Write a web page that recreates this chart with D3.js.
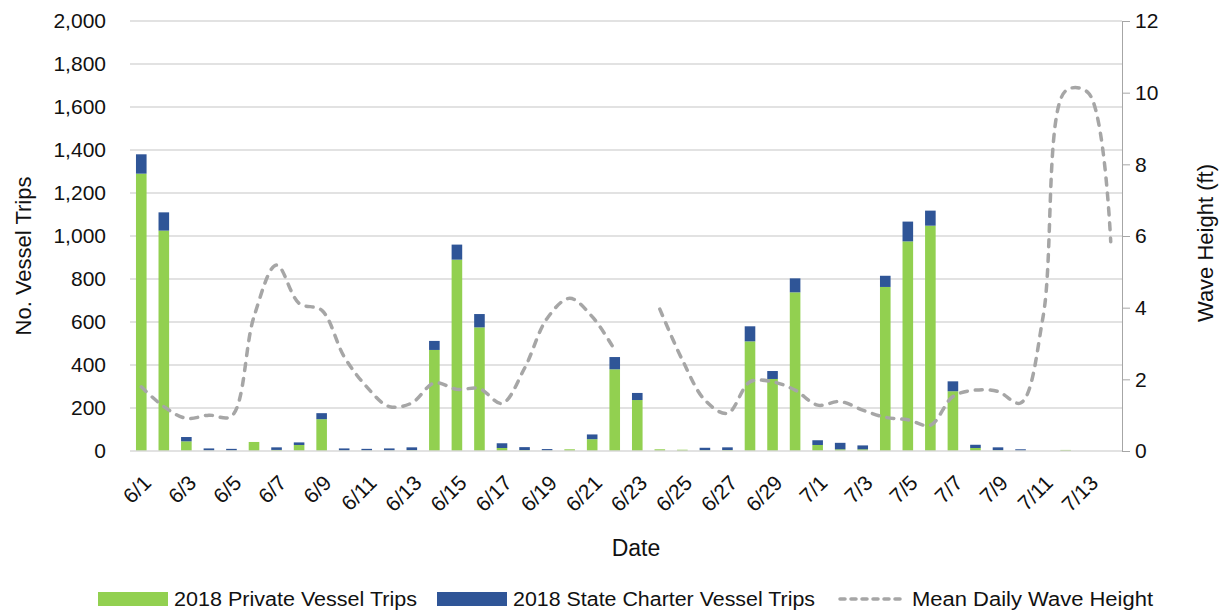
<!DOCTYPE html>
<html>
<head>
<meta charset="utf-8">
<script src="https://cdn.jsdelivr.net/npm/d3@7"></script>
<style>
  html, body { margin: 0; padding: 0; background: #fff; }
  svg { display: block; font-family: "Liberation Sans", Arial, sans-serif; }
</style>
</head>
<body>
<svg id="chart" width="1219" height="612"></svg>
<script>
const dates = ["6/1","6/2","6/3","6/4","6/5","6/6","6/7","6/8","6/9","6/10","6/11","6/12","6/13","6/14","6/15","6/16","6/17","6/18","6/19","6/20","6/21","6/22","6/23","6/24","6/25","6/26","6/27","6/28","6/29","6/30","7/1","7/2","7/3","7/4","7/5","7/6","7/7","7/8","7/9","7/10","7/11","7/12","7/13","7/14"];
const privateTrips = [1290,1025,45,2,2,42,5,28,148,2,2,2,3,470, 890,575,14,4,2,8,55,380,237,8,6,3,4, 510,335,738, 28,8,8,763,975,1048,278,14,3,1,0,5,0,0];
const charterTrips = [90,85,20,10,8,0,12,12,28,10,8,10,14,42, 70,62,22,14,7,0,22,57,33,0,0,12,13, 70,37,65, 22,30,18,52,92,70,46,15,14,7,0,0,0,0];
const waveHeight = [1.79,1.24,0.91,1.0,0.97,3.75,5.19,4.12,3.93,2.63,1.79,1.24,1.34,1.9, 1.72,1.74,1.33,2.31,3.7,4.26,3.75,2.82,null,3.96,2.54,1.42,1.05, 1.93,1.93,1.7, 1.28,1.38,1.14,0.94,0.87,0.72,1.52,1.7,1.66,1.34,3.75,10.05,10.0,5.84];
const leftTicks = [0,200,400,600,800,1000,1200,1400,1600,1800,2000];
const rightTicks = [0,2,4,6,8,10,12];
const seriesNames = ["2018 Private Vessel Trips","2018 State Charter Vessel Trips","Mean Daily Wave Height"];

const GREEN = "#92D050", BLUE = "#2F5597", GRAY = "#A6A6A6", GRID = "#D9D9D9", TXT = "#111";
const FONT = "Liberation Sans, Arial, sans-serif";
const svg = d3.select("#chart");
const X0 = 130, X1 = 1122, Y0 = 451, Y1 = 21;

const x = d3.scaleBand().domain(dates).range([X0, X1]).paddingInner(0.53).paddingOuter(0.265);
const y = d3.scaleLinear().domain([0, 2000]).range([Y0, Y1]);
const y2 = d3.scaleLinear().domain([0, 12]).range([Y0, Y1]);

// gridlines
svg.append("g").selectAll("line").data(leftTicks.filter(d => d > 0)).join("line")
  .attr("x1", X0).attr("x2", X1).attr("y1", d => y(d)).attr("y2", d => y(d))
  .attr("stroke", GRID).attr("stroke-width", 1.5);

// stacked bars
const rows = dates.map((d, i) => ({date: d, priv: privateTrips[i], charter: charterTrips[i]}));
const stack = d3.stack().keys(["priv", "charter"])(rows);
const colors = {priv: GREEN, charter: BLUE};
svg.append("g").selectAll("g").data(stack).join("g")
  .attr("fill", s => colors[s.key])
  .selectAll("rect").data(s => s).join("rect")
  .attr("x", d => x(d.data.date)).attr("width", x.bandwidth())
  .attr("y", d => y(d[1])).attr("height", d => Math.max(0, y(d[0]) - y(d[1])));

// x axis baseline
svg.append("line").attr("x1", X0).attr("x2", X1).attr("y1", Y0).attr("y2", Y0)
  .attr("stroke", GRID).attr("stroke-width", 1.5);

// wave line
const line = d3.line()
  .defined(d => d != null)
  .x((d, i) => x(dates[i]) + x.bandwidth() / 2)
  .y(d => y2(d))
  .curve(d3.curveCatmullRom.alpha(0.5));
svg.append("path").datum(waveHeight).attr("d", line)
  .attr("fill", "none").attr("stroke", GRAY).attr("stroke-width", 3.5)
  .attr("stroke-dasharray", "7,8").attr("stroke-linecap", "round");

// left axis
const la = svg.append("g").attr("transform", `translate(${X0},0)`)
  .call(d3.axisLeft(y).tickValues(leftTicks).tickFormat(d3.format(",")).tickSize(0).tickPadding(24));
la.select(".domain").remove();
la.selectAll("text").attr("font-size", 21).attr("fill", TXT).attr("font-family", FONT);

// right axis
const ra = svg.append("g").attr("transform", `translate(${X1},0)`)
  .call(d3.axisRight(y2).tickValues(rightTicks).tickSize(8).tickPadding(5));
ra.select(".domain").attr("stroke", GRAY);
ra.selectAll("line").attr("stroke", GRAY);
ra.selectAll("text").attr("font-size", 21).attr("fill", TXT).attr("font-family", FONT);

// bottom axis labels
const ba = svg.append("g").attr("transform", `translate(0,${Y0})`)
  .call(d3.axisBottom(x).tickValues(dates.filter((d, i) => i % 2 === 0)).tickSize(0));
ba.select(".domain").remove();
ba.selectAll("text")
  .attr("x", 0).attr("y", 0).attr("dy", "0.35em")
  .attr("text-anchor", "end")
  .attr("transform", "translate(6,28) rotate(-45)")
  .attr("font-size", 21).attr("fill", TXT).attr("font-family", FONT);

// axis titles
svg.append("text").attr("transform", "translate(31,256) rotate(-90)")
  .attr("text-anchor", "middle").attr("font-size", 22).attr("fill", TXT).text("No. Vessel Trips");
svg.append("text").attr("transform", "translate(1213,243) rotate(-90)")
  .attr("text-anchor", "middle").attr("font-size", 22).attr("fill", TXT).text("Wave Height (ft)");
svg.append("text").attr("x", 636).attr("y", 556)
  .attr("text-anchor", "middle").attr("font-size", 23).attr("fill", TXT).text("Date");

// legend
const lg = svg.append("g");
lg.append("rect").attr("x", 98).attr("y", 592).attr("width", 70).attr("height", 14).attr("fill", GREEN);
lg.append("text").attr("x", 174).attr("y", 606).attr("font-size", 20).attr("fill", TXT)
  .attr("textLength", 243).attr("lengthAdjust", "spacingAndGlyphs").text(seriesNames[0]);
lg.append("rect").attr("x", 437).attr("y", 592).attr("width", 70).attr("height", 14).attr("fill", BLUE);
lg.append("text").attr("x", 513).attr("y", 606).attr("font-size", 20).attr("fill", TXT)
  .attr("textLength", 302).attr("lengthAdjust", "spacingAndGlyphs").text(seriesNames[1]);
lg.append("line").attr("x1", 840).attr("x2", 904).attr("y1", 599).attr("y2", 599)
  .attr("stroke", GRAY).attr("stroke-width", 3.5).attr("stroke-dasharray", "5,6").attr("stroke-linecap", "round");
lg.append("text").attr("x", 912).attr("y", 606).attr("font-size", 20).attr("fill", TXT)
  .attr("textLength", 241).attr("lengthAdjust", "spacingAndGlyphs").text(seriesNames[2]);
</script>
</body>
</html>
